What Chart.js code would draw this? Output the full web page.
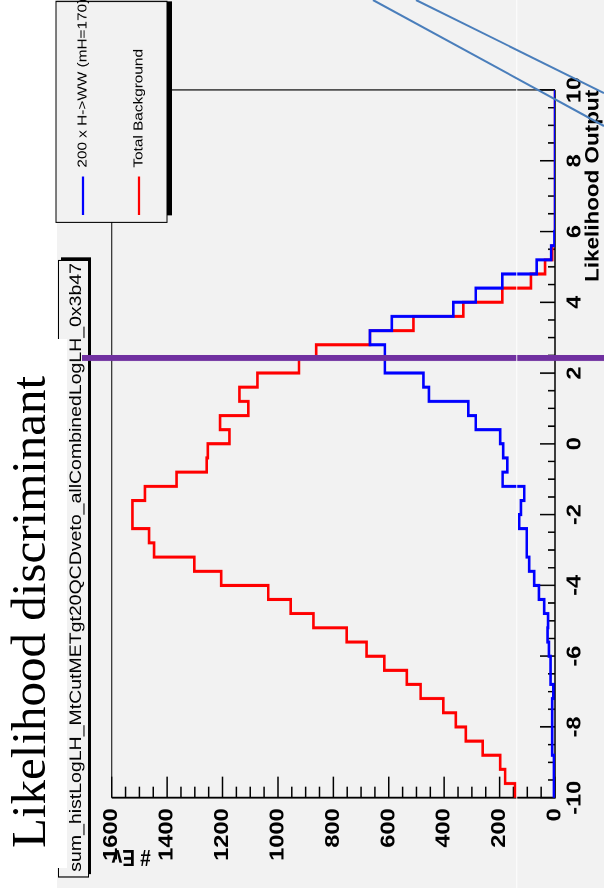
<!DOCTYPE html>
<html>
<head>
<meta charset="utf-8">
<script src="https://cdn.jsdelivr.net/npm/chart.js@4.4.1/dist/chart.umd.min.js"></script>
<style>
  html, body { margin: 0; padding: 0; background: #fff; width: 604px; height: 888px; overflow: hidden; }
  /* the ROOT plot is drawn unrotated (752x604) then turned and stretched like the pasted slide image */
  #frame { position: absolute; left: 0; top: 0; width: 752px; height: 604px;
    transform-origin: 0 0; transform: translate(0, 888px) rotate(-90deg) scale(1.1809, 1); }
  #overlay { position: absolute; left: 0; top: 0; }
</style>
</head>
<body>
<div id="frame"><canvas id="chart"></canvas></div>
<svg id="overlay" width="604" height="888">
  <rect x="0" y="339" width="67" height="529" fill="#fff"/>
  <text transform="translate(45,848) rotate(-90)" font-family="Liberation Serif" font-size="49" fill="#000">Likelihood discriminant</text>
  <line x1="373" y1="0" x2="604" y2="126" stroke="#4a7ebb" stroke-width="2"/>
  <line x1="416" y1="0" x2="604" y2="93" stroke="#4a7ebb" stroke-width="2"/>
</svg>
<script>
const binLow = -10;
const binWidth = 0.4;

// 200 x H->WW (mH=170), 50 bins from -10 to 10
const signal = [4, 4, 4, 10, 10, 10, 10, 6, 16, 16,
  22, 27, 25, 39, 58, 75, 93, 102, 102, 129,
  123, 111, 189, 172, 187, 198, 286, 313, 455, 475,
  614, 614, 668, 589, 367, 286, 190, 66, 14, 2,
  0, 0, 0, 0, 0, 0, 0, 0, 0, 0];

// Total Background
const background = [144, 180, 198, 261, 322, 358, 403, 485, 535, 616,
  680, 752, 872, 954, 1035, 1205, 1302, 1447, 1465, 1525,
  1525, 1480, 1366, 1257, 1253, 1175, 1209, 1107, 1139, 1074,
  924, 862, 668, 511, 331, 190, 87, 36, 10, 0,
  0, 0, 0, 0, 0, 0, 0, 0, 0, 0];

const seriesNames = ['200 x H->WW (mH=170)', 'Total Background'];
const seriesColors = ['#0000ff', '#ff0000'];
const countTicks = [0, 200, 400, 600, 800, 1000, 1200, 1400, 1600];
const outputTicks = [-10, -8, -6, -4, -2, 0, 2, 4, 6, 8, 10];
const cutValue = 2.43;
const histTitle = 'sum_histLogLH_MtCutMETgt20QCDveto_allCombinedLogLH_0x3b47';

const FONT = '"Liberation Sans", Arial, sans-serif';

function histPoints(values) {
  const pts = values.map((v, i) => ({ x: binLow + binWidth * i, y: v }));
  pts.push({ x: binLow + binWidth * values.length, y: values[values.length - 1] });
  return pts;
}

const rootStyle = {
  id: 'rootStyle',
  beforeDraw(chart) {
    const { ctx, width, height } = chart;
    ctx.save();
    ctx.fillStyle = '#fff';
    ctx.fillRect(0, 0, width, height);
    ctx.fillStyle = '#f2f2f2';
    ctx.fillRect(0, 57, width, height - 57);
    ctx.restore();
  },
  beforeDatasetsDraw(chart) {
    const { ctx, chartArea: a, scales: { x, y } } = chart;
    ctx.save();
    ctx.strokeStyle = '#000';
    ctx.lineWidth = 1;
    ctx.beginPath();
    ctx.moveTo(a.left, a.top);
    ctx.lineTo(a.right, a.top);
    ctx.lineTo(a.right, a.bottom);
    ctx.stroke();

    ctx.lineWidth = 1.5;
    ctx.beginPath();
    ctx.moveTo(a.left, a.top);
    ctx.lineTo(a.left, a.bottom);
    ctx.lineTo(a.right, a.bottom);
    ctx.stroke();

    // inner ticks, ROOT style
    for (let c = 0; c <= 1600; c += 50) {
      const py = y.getPixelForValue(c);
      const len = c % 200 === 0 ? 17.8 : 9.3;
      ctx.beginPath();
      ctx.moveTo(a.left, py);
      ctx.lineTo(a.left + len, py);
      ctx.stroke();
    }
    ctx.lineWidth = 1.3;
    for (let k = 0; k <= 40; k++) {
      const px = x.getPixelForValue(-10 + 0.5 * k);
      const len = k % 4 === 0 ? 15 : 7;
      ctx.beginPath();
      ctx.moveTo(px, a.bottom);
      ctx.lineTo(px, a.bottom - len);
      ctx.stroke();
    }
    ctx.restore();
  },
  afterDatasetsDraw(chart) {
    const { ctx, height, scales: { x } } = chart;
    ctx.save();

    // legend box
    const lx = 563.6, lw = 187.2, ly = 56, lh = 111;
    ctx.fillStyle = '#000';
    ctx.fillRect(lx + 6, ly + 5, lw - 6, lh);
    ctx.fillStyle = '#f2f2f2';
    ctx.fillRect(lx, ly, lw, lh);
    ctx.strokeStyle = '#000';
    ctx.lineWidth = 1;
    ctx.strokeRect(lx, ly, lw, lh);
    const rows = [83, 139];
    chart.data.datasets.forEach((ds, i) => {
      ctx.strokeStyle = ds.borderColor;
      ctx.lineWidth = 2.3;
      ctx.beginPath();
      ctx.moveTo(570, rows[i]);
      ctx.lineTo(602.5, rows[i]);
      ctx.stroke();
      ctx.fillStyle = '#000';
      ctx.font = '13px ' + FONT;
      ctx.textBaseline = 'middle';
      ctx.textAlign = 'left';
      ctx.fillText(ds.label, 610, rows[i]);
    });

    // histogram title box
    const tx = 9.3, tw = 522.2, ty = 58.5, th = 30;
    ctx.fillStyle = '#000';
    ctx.fillRect(tx + 2.5, ty + 2.5, tw, th);
    ctx.fillStyle = '#f2f2f2';
    ctx.fillRect(tx, ty, tw, th);
    ctx.strokeStyle = '#000';
    ctx.lineWidth = 1;
    ctx.strokeRect(tx, ty, tw, th);
    ctx.fillStyle = '#000';
    ctx.font = '16.5px ' + FONT;
    ctx.textBaseline = 'middle';
    ctx.fillText(histTitle, 13.8, 76.5);

    // cut line
    const cx = x.getPixelForValue(cutValue);
    ctx.fillStyle = '#7030a0';
    ctx.fillRect(cx - 2.55, 82, 5.1, height - 82);

    // faint slide seam
    ctx.strokeStyle = 'rgba(255,255,255,0.9)';
    ctx.lineWidth = 1;
    ctx.beginPath();
    ctx.moveTo(0, 516.7);
    ctx.lineTo(chart.width, 516.7);
    ctx.stroke();
    ctx.restore();
  }
};

const tickFont = { family: FONT, size: 20, weight: 'bold', lineHeight: 1 };
const titleFont = { family: FONT, size: 19, weight: 'bold', lineHeight: 1 };

new Chart(document.getElementById('chart'), {
  type: 'line',
  data: {
    datasets: [
      { label: seriesNames[0], data: histPoints(signal), borderColor: seriesColors[0],
        borderWidth: 2.6, stepped: true, pointRadius: 0, fill: false },
      { label: seriesNames[1], data: histPoints(background), borderColor: seriesColors[1],
        borderWidth: 2.6, stepped: true, pointRadius: 0, fill: false }
    ]
  },
  options: {
    responsive: true,
    maintainAspectRatio: false,
    animation: false,
    devicePixelRatio: 2,
    layout: { padding: { left: 0, right: 76.2, top: 111.7, bottom: 0 } },
    plugins: { legend: { display: false }, tooltip: { enabled: false } },
    scales: {
      x: {
        type: 'linear', min: -10, max: 10,
        afterBuildTicks: s => { s.ticks = outputTicks.map(v => ({ value: v })); },
        afterFit: s => { s.height = 49; },
        grid: { display: false },
        border: { display: false },
        ticks: { font: tickFont, color: '#000', padding: 2, maxRotation: 0, autoSkip: false,
          callback: v => String(v) },
        title: { display: true, text: 'Likelihood Output', align: 'end', font: titleFont,
          color: '#000', padding: { top: 0, bottom: 1 } }
      },
      y: {
        type: 'linear', min: 0, max: 1600,
        afterBuildTicks: s => { s.ticks = countTicks.map(v => ({ value: v })); },
        afterFit: s => { s.width = 76.47; },
        grid: { display: false },
        border: { display: false },
        ticks: { font: tickFont, color: '#000', padding: 1, autoSkip: false,
          callback: v => String(v) },
        title: { display: true, text: '# Ev', align: 'end', font: titleFont,
          color: '#000', padding: { top: 17.5, bottom: 0 } }
      }
    }
  },
  plugins: [rootStyle]
});
</script>
</body>
</html>
